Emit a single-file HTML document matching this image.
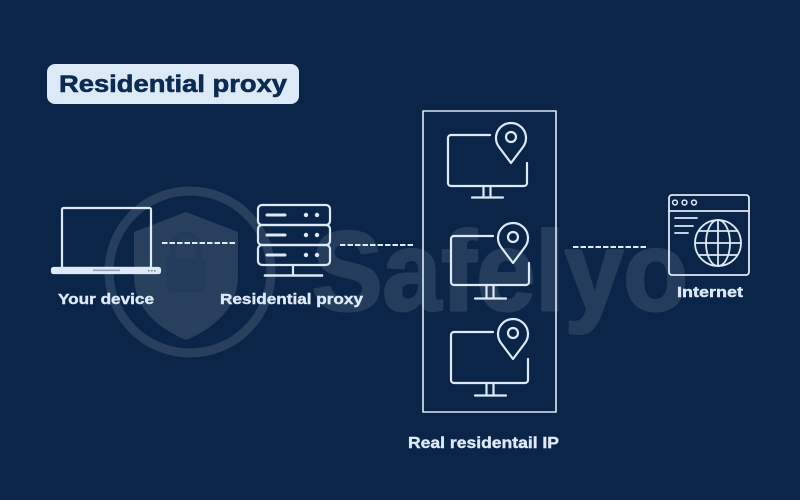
<!DOCTYPE html>
<html>
<head>
<meta charset="utf-8">
<style>
  html,body{margin:0;padding:0;background:#0a2548;}
  svg{display:block;}
  text{font-family:"Liberation Sans", sans-serif;font-weight:bold;}
</style>
</head>
<body>
<svg width="800" height="500" viewBox="0 0 800 500" xmlns="http://www.w3.org/2000/svg">
  <rect width="800" height="500" fill="#0a2548"/>

  <!-- Watermark -->
  <g opacity="0.12" fill="#ffffff">
    <circle cx="190" cy="272" r="81" fill="none" stroke="#ffffff" stroke-width="9"/>
    <path d="M186 212 L238 232 L238 275 Q238 318 186 340 Q134 318 134 275 L134 232 Z"/>
  </g>
  <g opacity="0.12" fill="#0a2548">
    <rect x="166" y="258" width="40" height="34" rx="5"/>
    <path d="M173 258 v-10 a13 13 0 0 1 26 0 v10" fill="none" stroke="#0a2548" stroke-width="7"/>
  </g>
  <g opacity="0.11">
    <text x="312" y="310" font-size="112" fill="#ffffff" stroke="#ffffff" stroke-width="3" stroke-linejoin="round" textLength="376" lengthAdjust="spacingAndGlyphs">Safelyo</text>
  </g>

  <!-- Title -->
  <rect x="47" y="64" width="252" height="40" rx="8" fill="#dce9f6"/>
  <text x="59" y="92" font-size="24" fill="#0c2b52" stroke="#0c2b52" stroke-width="0.6" textLength="228" lengthAdjust="spacingAndGlyphs">Residential proxy</text>

  <g fill="none" stroke="#dde9f6" stroke-width="2.2" stroke-linecap="round" stroke-linejoin="round">
    <!-- Laptop -->
    <rect x="62" y="208" width="89" height="60" rx="1.5"/>
    <rect x="52" y="268" width="108" height="5" rx="1.5" fill="#dde9f6"/>

    <!-- Server -->
    <rect x="258" y="205" width="72" height="20" rx="4"/>
    <rect x="258" y="225" width="72" height="20" rx="4"/>
    <rect x="258" y="245" width="72" height="20" rx="4"/>
    <line x1="267" y1="215" x2="285" y2="215" stroke-width="3"/>
    <line x1="267" y1="235" x2="285" y2="235" stroke-width="3"/>
    <line x1="267" y1="255" x2="285" y2="255" stroke-width="3"/>
    <line x1="293" y1="265" x2="293" y2="275"/>
    <line x1="265" y1="275.5" x2="322" y2="275.5" stroke-width="2.6"/>

    <!-- Frame -->
    <rect x="423" y="111" width="133" height="301" stroke-width="1.6" stroke-linecap="butt"/>

    <!-- Browser -->
    <rect x="669" y="195" width="80" height="80" rx="3" stroke-width="1.8"/>
    <line x1="669" y1="211" x2="749" y2="211" stroke-width="1.8"/>
    <circle cx="675" cy="202.5" r="2.4" stroke-width="1.5"/>
    <circle cx="684.5" cy="202.5" r="2.4" stroke-width="1.5"/>
    <circle cx="694" cy="202.5" r="2.4" stroke-width="1.5"/>
    <line x1="675" y1="218" x2="697" y2="218" stroke-width="1.8"/>
    <line x1="675" y1="226" x2="693" y2="226" stroke-width="1.8"/>
    <line x1="675" y1="233" x2="688" y2="233" stroke-width="1.8"/>
    <circle cx="718" cy="243" r="23" stroke-width="1.8"/>
    <ellipse cx="718" cy="243" rx="12" ry="23" stroke-width="1.8"/>
    <line x1="718" y1="220" x2="718" y2="266" stroke-width="1.8"/>
    <line x1="695" y1="243" x2="741" y2="243" stroke-width="1.8"/>
    <line x1="699" y1="231" x2="737" y2="231" stroke-width="1.8"/>
    <line x1="699" y1="255" x2="737" y2="255" stroke-width="1.8"/>
  </g>
  <!-- server dots -->
  <g fill="#dde9f6">
    <circle cx="306" cy="215" r="2.2"/><circle cx="317" cy="215" r="2.2"/>
    <circle cx="306" cy="235" r="2.2"/><circle cx="317" cy="235" r="2.2"/>
    <circle cx="306" cy="255" r="2.2"/><circle cx="317" cy="255" r="2.2"/>
  </g>
  <!-- laptop details -->
  <rect x="93" y="269.5" width="27" height="1.6" fill="#0a2548" opacity="0.35"/>
  <g fill="#0a2548" opacity="0.5">
    <rect x="148" y="270" width="1.5" height="1.5"/>
    <rect x="151" y="270" width="1.5" height="1.5"/>
    <rect x="154" y="270" width="1.5" height="1.5"/>
  </g>

  <!-- Monitors -->
  <g fill="none" stroke="#dde9f6" stroke-width="2.2" stroke-linecap="round" stroke-linejoin="round">
    <!-- monitor 1 -->
    <path d="M490 135 H451 a3 3 0 0 0 -3 3 V183 a3 3 0 0 0 3 3 H524 a3 3 0 0 0 3 -3 V163"/>
    <line x1="483.5" y1="186" x2="483.5" y2="197"/>
    <line x1="490.5" y1="186" x2="490.5" y2="197"/>
    <line x1="472" y1="197.5" x2="503" y2="197.5"/>
    <path d="M511 163 L499 147 A15 15 0 1 1 523 147 Z"/>
    <circle cx="511" cy="137" r="5"/>

    <!-- monitor 2 -->
    <path d="M493 236 H454 a3 3 0 0 0 -3 3 V282 a3 3 0 0 0 3 3 H526 a3 3 0 0 0 3 -3 V263"/>
    <line x1="486.5" y1="285" x2="486.5" y2="298"/>
    <line x1="493.5" y1="285" x2="493.5" y2="298"/>
    <line x1="475" y1="298.5" x2="506" y2="298.5"/>
    <path d="M513 263 L501 247 A15 15 0 1 1 525 247 Z"/>
    <circle cx="513" cy="237" r="5"/>

    <!-- monitor 3 -->
    <path d="M493 332 H454 a3 3 0 0 0 -3 3 V380 a3 3 0 0 0 3 3 H525 a3 3 0 0 0 3 -3 V359"/>
    <line x1="486.5" y1="383" x2="486.5" y2="395"/>
    <line x1="493.5" y1="383" x2="493.5" y2="395"/>
    <line x1="475" y1="395.5" x2="506" y2="395.5"/>
    <path d="M513 359 L501 343 A15 15 0 1 1 525 343 Z"/>
    <circle cx="513" cy="333" r="5"/>
  </g>

  <!-- Dashed connectors -->
  <g stroke="#dde9f6" stroke-width="2" stroke-dasharray="5.5 2">
    <line x1="162" y1="243" x2="236" y2="243"/>
    <line x1="340" y1="245" x2="415" y2="245"/>
    <line x1="573" y1="247" x2="647" y2="247"/>
  </g>

  <!-- Labels -->
  <g fill="#dde9f6" stroke="#dde9f6" stroke-width="0.4" font-size="15">
    <text x="58" y="304" textLength="96" lengthAdjust="spacingAndGlyphs">Your device</text>
    <text x="220" y="304" textLength="143" lengthAdjust="spacingAndGlyphs">Residential proxy</text>
    <text x="677" y="297" textLength="66" lengthAdjust="spacingAndGlyphs">Internet</text>
    <text x="408" y="448" font-size="16" textLength="151" lengthAdjust="spacingAndGlyphs">Real residentail IP</text>
  </g>
</svg>
</body>
</html>
